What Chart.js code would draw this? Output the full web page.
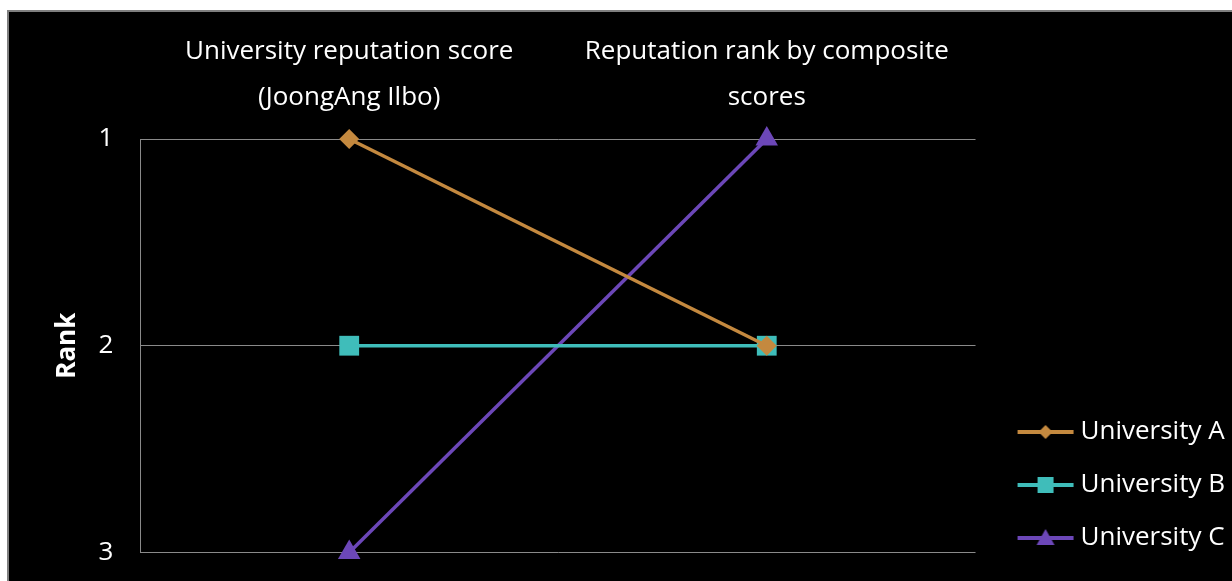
<!DOCTYPE html>
<html>
<head>
<meta charset="utf-8">
<script src="https://cdn.jsdelivr.net/npm/chart.js@4"></script>
<style>
    html, body { margin: 0; padding: 0; background: #fff; overflow: hidden; }
    .frame {
        position: absolute;
        left: 7px;
        top: 10px;
        width: 1240px;
        height: 600px;
        background: #000;
        border: 2px solid #7f7f7f;
    }
    .frame canvas { display: block; }
</style>
</head>
<body>
<div class="frame">
    <canvas id="rankChart" width="1223" height="583"></canvas>
</div>
<script>
const categories = [
    ["University reputation score", "(JoongAng Ilbo)"],
    ["Reputation rank by composite", "scores"]
];
const seriesNames = ["University A", "University B", "University C"];
const universityA = [1, 2];
const universityB = [2, 2];
const universityC = [3, 1];
const rankTicks = [1, 2, 3];

const colors = ["#c4893f", "#3fbdba", "#6c47b8"];
const markers = ["rectRot", "rect", "triangle"];
const markerSizes = [10, 14, 13];
const fontFamily = "'Open Sans', 'Noto Sans', sans-serif";

// legend swatch: line with the marker in the middle
function legendSwatch(color, style) {
    const c = document.createElement("canvas");
    c.width = 58;
    c.height = 22;
    const ctx = c.getContext("2d");
    ctx.strokeStyle = color;
    ctx.lineWidth = 4;
    ctx.beginPath();
    ctx.moveTo(1, 11);
    ctx.lineTo(57, 11);
    ctx.stroke();
    ctx.fillStyle = color;
    ctx.beginPath();
    if (style === "rectRot") {
        ctx.moveTo(29, 4); ctx.lineTo(36, 11); ctx.lineTo(29, 18); ctx.lineTo(22, 11);
    } else if (style === "rect") {
        ctx.rect(21, 3, 16, 16);
    } else {
        ctx.moveTo(29, 2); ctx.lineTo(38, 18); ctx.lineTo(20, 18);
    }
    ctx.closePath();
    ctx.fill();
    return c;
}

// move the legend block a bit, like the original
const legendShift = {
    id: "legendShift",
    afterLayout(chart) {
        chart.legend.top -= 11;
        chart.legend.bottom -= 11;
        chart.legend.left += 21;
        chart.legend.right += 21;
    }
};

const seriesData = [universityA, universityB, universityC];

new Chart(document.getElementById("rankChart"), {
    type: "line",
    data: {
        labels: categories,
        datasets: seriesData.map((values, i) => ({
            label: seriesNames[i],
            data: values,
            borderColor: colors[i],
            backgroundColor: colors[i],
            borderWidth: 3.5,
            pointStyle: markers[i],
            pointRadius: markerSizes[i],
            pointBorderWidth: 0,
            pointHoverRadius: markerSizes[i],
            tension: 0,
            clip: false
        }))
    },
    plugins: [legendShift],
    options: {
        responsive: false,
        animation: false,
        layout: { padding: { top: 7, right: 18, bottom: 6, left: 19 } },
        plugins: {
            tooltip: { enabled: false },
            legend: {
                position: "right",
                align: "end",
                labels: {
                    color: "#ffffff",
                    font: { family: fontFamily, size: 26 },
                    usePointStyle: true,
                    pointStyleWidth: 44,
                    padding: 27,
                    generateLabels: (chart) => chart.data.datasets.map((ds, i) => ({
                        text: ds.label,
                        fontColor: "#ffffff",
                        fillStyle: ds.backgroundColor,
                        strokeStyle: ds.borderColor,
                        lineWidth: 0,
                        pointStyle: legendSwatch(ds.borderColor, ds.pointStyle),
                        datasetIndex: i,
                        hidden: false
                    }))
                }
            }
        },
        scales: {
            x: {
                position: "top",
                offset: true,
                grid: { display: false },
                border: { display: false },
                ticks: {
                    color: "#ffffff",
                    padding: 10,
                    maxRotation: 0,
                    font: { family: fontFamily, size: 26, lineHeight: 1.77 }
                }
            },
            y: {
                reverse: true,
                min: 1,
                max: 3,
                afterBuildTicks: (axis) => { axis.ticks = rankTicks.map(v => ({ value: v })); },
                grid: { color: "#8a8a8a", lineWidth: 1, drawTicks: false },
                border: { color: "#8a8a8a", width: 1 },
                ticks: {
                    color: "#ffffff",
                    padding: 27,
                    font: { family: fontFamily, size: 26 }
                },
                title: {
                    display: true,
                    text: "Rank",
                    color: "#ffffff",
                    padding: { top: 35, bottom: 0 },
                    font: { family: fontFamily, size: 26, weight: "bold", lineHeight: 0.33 }
                }
            }
        }
    }
});
</script>
</body>
</html>
